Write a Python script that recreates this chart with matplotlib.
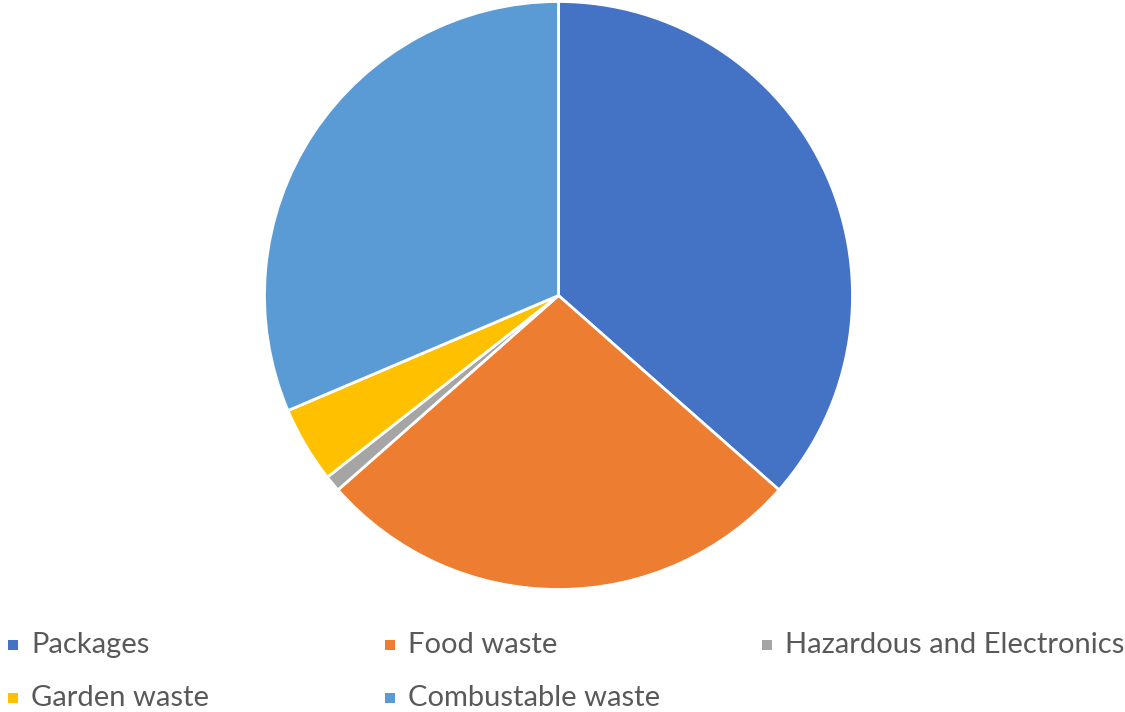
import matplotlib.pyplot as plt
from matplotlib.patches import Rectangle

labels = ["Packages", "Food waste", "Hazardous and Electronics", "Garden waste", "Combustable waste"]
values = [36.5, 27.0, 0.9, 4.2, 31.4]
colors = ["#4472C4", "#ED7D31", "#A5A5A5", "#FFC000", "#5B9BD5"]

W, H = 1125, 712
fig = plt.figure(figsize=(W / 100, H / 100), dpi=100)

# pie area: centre (558, 295), radius ~294 px
cx, cy, r = 558.5, 295.5, 294
ax = fig.add_axes([(cx - r) / W, (H - cy - r) / H, 2 * r / W, 2 * r / H])
ax.pie(values, colors=colors, startangle=90, counterclock=False, radius=1.0,
       wedgeprops=dict(edgecolor="white", linewidth=2.0))
ax.set_xlim(-1.0, 1.0)
ax.set_ylim(-1.0, 1.0)
ax.set_aspect("equal")
ax.axis("off")

# legend laid out like Excel: 3 equal columns, 2 rows
col_x = [8, 385, 762]
row_y = [645, 698]
sq = 10
for i, (lab, col) in enumerate(zip(labels, colors)):
    x = col_x[i % 3]
    y = row_y[i // 3]
    fig.patches.append(Rectangle((x / W, (H - y - sq / 2) / H), sq / W, sq / H,
                                 transform=fig.transFigure, facecolor=col, edgecolor="none"))
    fig.text((x + 23) / W, (H - y) / H, lab, fontsize=21, color="#595959",
             family="Lato", va="center", ha="left")

fig.savefig("out.png", dpi=100)
